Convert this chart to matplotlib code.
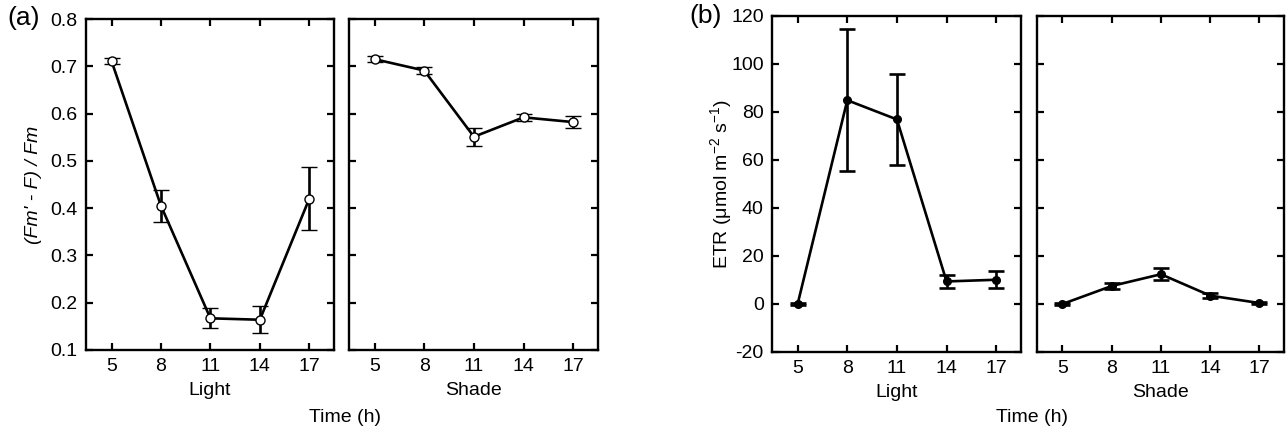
import matplotlib
matplotlib.use("Agg")
import matplotlib.pyplot as plt

plt.rcParams['font.family'] = ['Liberation Sans', 'DejaVu Sans']
plt.rcParams['mathtext.fontset'] = 'custom'
plt.rcParams['mathtext.rm'] = 'Liberation Sans'
plt.rcParams['mathtext.it'] = 'Liberation Sans:italic'
plt.rcParams['axes.unicode_minus'] = False

hours = [5, 8, 11, 14, 17]

# (a) (Fm' - F) / Fm
yield_light = [0.711, 0.405, 0.167, 0.164, 0.420]
yield_light_err = [0.007, 0.034, 0.021, 0.029, 0.066]
yield_shade = [0.715, 0.691, 0.551, 0.592, 0.582]
yield_shade_err = [0.006, 0.008, 0.019, 0.007, 0.012]

# (b) ETR
etr_light = [0.0, 84.9, 76.9, 9.4, 10.1]
etr_light_err = [0.5, 29.5, 19.0, 2.7, 3.5]
etr_shade = [0.0, 7.5, 12.4, 3.5, 0.4]
etr_shade_err = [0.4, 1.3, 2.4, 1.2, 0.5]

fig = plt.figure(figsize=(12.86, 4.34), dpi=100)
W, H = 1286.0, 434.0
FS = 14


def make_ax(x0, x1, ytop, ybot):
    return fig.add_axes([x0 / W, 1 - ybot / H, (x1 - x0) / W, (ybot - ytop) / H])


def style(ax, ylim, yticks, show_ylabels):
    ax.set_xlim(3.45, 18.5)
    ax.set_ylim(*ylim)
    ax.set_xticks(hours)
    ax.set_yticks(yticks)
    ax.tick_params(direction='in', top=True, right=True, length=5, width=1.6,
                   labelsize=FS, pad=6)
    if not show_ylabels:
        ax.set_yticklabels([])
    for s in ax.spines.values():
        s.set_linewidth(1.7)


def draw(ax, y, err, open_marker):
    if open_marker:
        ax.errorbar(hours, y, yerr=err, color='black', lw=1.9, capsize=6, capthick=1.9,
                    elinewidth=1.9, marker='o', ms=6.5, mfc='white', mec='black', mew=1.0)
    else:
        ax.errorbar(hours, y, yerr=err, color='black', lw=1.9, capsize=6, capthick=1.9,
                    elinewidth=1.9, marker='o', ms=5.5, mfc='black', mec='black')


yt_a = [0.1, 0.2, 0.3, 0.4, 0.5, 0.6, 0.7, 0.8]
yt_b = [-20, 0, 20, 40, 60, 80, 100, 120]

ax1 = make_ax(86, 334, 19, 350)
draw(ax1, yield_light, yield_light_err, True)
style(ax1, (0.1, 0.8), yt_a, True)
ax1.set_yticklabels(['%.1f' % v for v in yt_a])
ax1.set_xlabel('Light', fontsize=FS, labelpad=5)
ax1.set_ylabel("(Fm' - F) / Fm", fontsize=FS, fontstyle='italic', labelpad=6)

ax2 = make_ax(349, 598, 19, 350)
draw(ax2, yield_shade, yield_shade_err, True)
style(ax2, (0.1, 0.8), yt_a, False)
ax2.set_xlabel('Shade', fontsize=FS, labelpad=5)

ax3 = make_ax(772, 1021, 16, 352)
draw(ax3, etr_light, etr_light_err, False)
style(ax3, (-20, 120), yt_b, True)
ax3.set_xlabel('Light', fontsize=FS, labelpad=5)
ax3.set_ylabel('ETR (μmol m$^{-2}$ s$^{-1}$)', fontsize=FS, labelpad=-2)

ax4 = make_ax(1037, 1284, 16, 352)
draw(ax4, etr_shade, etr_shade_err, False)
style(ax4, (-20, 120), yt_b, False)
ax4.set_xlabel('Shade', fontsize=FS, labelpad=5)

fig.text(345 / W, 1 - 418 / H, 'Time (h)', ha='center', va='center', fontsize=FS)
fig.text(1032 / W, 1 - 418 / H, 'Time (h)', ha='center', va='center', fontsize=FS)
fig.text(7 / W, 1 - 18 / H, '(a)', ha='left', va='center', fontsize=19)
fig.text(689 / W, 1 - 16 / H, '(b)', ha='left', va='center', fontsize=19)

fig.savefig('out.png', dpi=100)
